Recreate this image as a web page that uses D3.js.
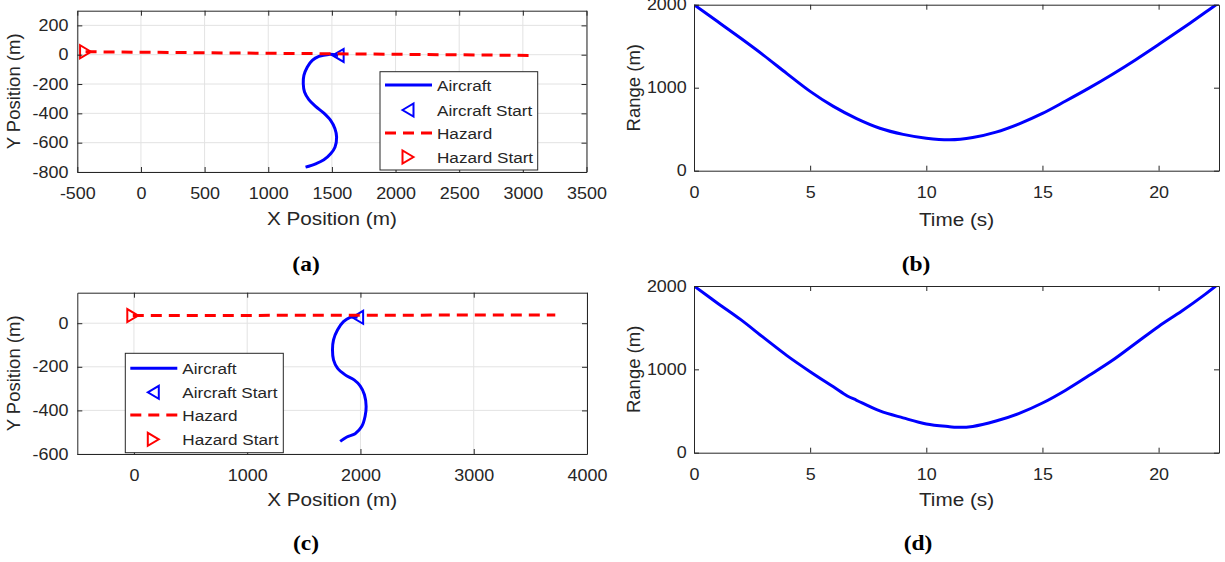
<!DOCTYPE html>
<html>
<head>
<meta charset="utf-8">
<script src="https://cdn.jsdelivr.net/npm/d3@7"></script>
<style>
    body { margin: 0; background: #fff; }
    svg text { font-family: "Liberation Sans", Arial, sans-serif; fill: #262626; }
</style>
</head>
<body>
<div id="chart"></div>
<script>
// ---- values ----

// (a) positions
const xTicksA = [-500, 0, 500, 1000, 1500, 2000, 2500, 3000, 3500];
const yTicksA = [-800, -600, -400, -200, 0, 200];
const aircraftA = [[1549, -5], [1516, 0], [1476, 2], [1398, -12], [1346, -39], [1306, -85],
    [1280, -141], [1275, -198], [1285, -255], [1319, -307], [1372, -353], [1437, -399],
    [1490, -448], [1524, -505], [1537, -562], [1524, -631], [1490, -676], [1437, -717],
    [1372, -744], [1293, -767]];
const hazardA = [[-435, 20], [3090, -5]];

// (c) positions
const xTicksC = [0, 1000, 2000, 3000, 4000];
const yTicksC = [-600, -400, -200, 0];
const aircraftC = [[1975, 27], [1940, 30], [1909, 27], [1850, 7], [1797, -31], [1762, -76],
    [1753, -122], [1762, -168], [1797, -206], [1865, -237], [1944, -260], [1997, -287],
    [2035, -328], [2050, -382], [2041, -427], [2012, -473], [1953, -507], [1880, -522],
    [1821, -542]];
const hazardC = [[-10, 35], [3720, 38]];

// (b) and (d) range vs time
const timeTicks = [0, 5, 10, 15, 20];
const rangeTicks = [0, 1000, 2000];
const timeB = [0, 1, 2, 3, 4, 5, 6, 7, 8, 9, 10, 11, 12, 13, 14, 15, 16, 17, 18, 19, 20, 21, 22, 22.6];
const rangeB = [2000, 1800, 1598, 1390, 1170, 956, 775, 628, 512, 438, 392, 372, 400, 465, 565,
    690, 840, 995, 1160, 1335, 1520, 1710, 1905, 2025];
const timeD = [0, 1, 2, 3, 4, 5, 6, 6.6, 7, 8, 9, 10, 11, 11.3, 12, 13, 14, 15, 16, 17, 18, 19, 20, 21, 22, 22.6];
const rangeD = [2000, 1797, 1599, 1380, 1165, 972, 790, 681, 629, 501, 418, 345, 312, 305, 315,
    380, 472, 596, 750, 925, 1105, 1310, 1515, 1700, 1900, 2030];

const legendLabels = ["Aircraft", "Aircraft Start", "Hazard", "Hazard Start"];
const panelLabels = ["(a)", "(b)", "(c)", "(d)"];

// ---- styling ----
const BLUE = "#0000ff";
const RED = "#ff0000";
const INK = "#262626";
const STRETCH = "scale(1.12,1)";   // the figure is a bit wider than tall

const svg = d3.select("#chart").append("svg")
    .attr("width", 1225)
    .attr("height", 562);

svg.append("rect").attr("width", 1225).attr("height", 562).attr("fill", "#fff");

let clipCount = 0;

// triangle marker, dir = 'left' or 'right'
function triangle(dir) {
    const w = 5.5, h = 6.5;
    return dir === "left"
        ? `M${-w},0L${w},${-h}L${w},${h}Z`
        : `M${w},0L${-w},${-h}L${-w},${h}Z`;
}

/**
 * Draw one axes box with ticks, optional grid and axis labels.
 * Returns scales and a clipped group for the data.
 */
function drawAxes(cfg) {
    const g = svg.append("g");
    const x = d3.scaleLinear().domain(cfg.xDomain).range([cfg.left, cfg.right]);
    const y = d3.scaleLinear().domain(cfg.yDomain).range([cfg.bottom, cfg.top]);
    const fmt = d => String(d);

    if (cfg.grid) {
        g.append("g").selectAll("line")
            .data(cfg.xTicks)
            .join("line")
            .attr("x1", d => x(d)).attr("x2", d => x(d))
            .attr("y1", cfg.top).attr("y2", cfg.bottom)
            .attr("stroke", "#e3e3e3");
        g.append("g").selectAll("line")
            .data(cfg.yTicks)
            .join("line")
            .attr("x1", cfg.left).attr("x2", cfg.right)
            .attr("y1", d => y(d)).attr("y2", d => y(d))
            .attr("stroke", "#e3e3e3");
    }

    const id = "clip" + (clipCount++);
    svg.append("clipPath").attr("id", id)
        .append("rect")
        .attr("x", cfg.left).attr("y", cfg.top)
        .attr("width", cfg.right - cfg.left)
        .attr("height", cfg.bottom - cfg.top);
    const plot = g.append("g").attr("clip-path", `url(#${id})`);

    const axes = g.append("g");
    axes.append("g")
        .attr("transform", `translate(0,${cfg.bottom})`)
        .call(d3.axisBottom(x).tickValues(cfg.xTicks).tickFormat(fmt)
            .tickSizeInner(-5).tickSizeOuter(0).tickPadding(16));
    axes.append("g")
        .attr("transform", `translate(0,${cfg.top})`)
        .call(d3.axisTop(x).tickValues(cfg.xTicks).tickFormat("")
            .tickSizeInner(-5).tickSizeOuter(0));
    axes.append("g")
        .attr("transform", `translate(${cfg.left},0)`)
        .call(d3.axisLeft(y).tickValues(cfg.yTicks).tickFormat(fmt)
            .tickSizeInner(-5).tickSizeOuter(0).tickPadding(cfg.yPad));
    axes.append("g")
        .attr("transform", `translate(${cfg.right},0)`)
        .call(d3.axisRight(y).tickValues(cfg.yTicks).tickFormat("")
            .tickSizeInner(-5).tickSizeOuter(0));

    axes.selectAll("g")
        .attr("font-family", null)
        .attr("font-size", null);
    axes.selectAll(".domain, .tick line").attr("stroke", INK);
    axes.selectAll(".tick text")
        .attr("fill", INK)
        .style("font-size", "16px")
        .attr("transform", STRETCH);

    // axis titles
    svg.append("text")
        .attr("transform", `translate(${(cfg.left + cfg.right) / 2},${cfg.xTitleY}) ${STRETCH}`)
        .attr("text-anchor", "middle")
        .style("font-size", "18.5px")
        .text(cfg.xTitle);
    svg.append("text")
        .attr("transform", `translate(${cfg.yTitleX},${(cfg.top + cfg.bottom) / 2}) rotate(-90)`)
        .attr("text-anchor", "middle")
        .style("font-size", "18.5px")
        .text(cfg.yTitle);

    return { x, y, plot };
}

function drawPositionPanel(cfg, aircraft, hazard, legend) {
    const { x, y, plot } = drawAxes(cfg);
    const line = d3.line()
        .x(d => x(d[0]))
        .y(d => y(d[1]))
        .curve(d3.curveCatmullRom);

    plot.append("path")
        .attr("d", line(aircraft))
        .attr("fill", "none")
        .attr("stroke", BLUE)
        .attr("stroke-width", 3);
    plot.append("path")
        .attr("d", triangle("left"))
        .attr("transform", `translate(${x(aircraft[0][0])},${y(aircraft[0][1])})`)
        .attr("fill", "none")
        .attr("stroke", BLUE)
        .attr("stroke-width", 2);
    plot.append("path")
        .attr("d", d3.line().x(d => x(d[0])).y(d => y(d[1]))(hazard))
        .attr("fill", "none")
        .attr("stroke", RED)
        .attr("stroke-width", 3)
        .attr("stroke-dasharray", "11,7");
    plot.append("path")
        .attr("d", triangle("right"))
        .attr("transform", `translate(${x(hazard[0][0])},${y(hazard[0][1])})`)
        .attr("fill", "none")
        .attr("stroke", RED)
        .attr("stroke-width", 2);

    // legend box
    const lg = svg.append("g");
    lg.append("rect")
        .attr("x", legend.x).attr("y", legend.y)
        .attr("width", legend.w).attr("height", legend.h)
        .attr("fill", "#fff")
        .attr("stroke", INK);
    legendLabels.forEach((label, i) => {
        const cy = legend.rows[i];
        const x0 = legend.x + 5, x1 = legend.x + 52;
        if (i === 0 || i === 2) {
            lg.append("line")
                .attr("x1", x0).attr("x2", x1)
                .attr("y1", cy).attr("y2", cy)
                .attr("stroke", i === 0 ? BLUE : RED)
                .attr("stroke-width", 3)
                .attr("stroke-dasharray", i === 2 ? "11,7" : null);
        } else {
            lg.append("path")
                .attr("d", triangle(i === 1 ? "left" : "right"))
                .attr("transform", `translate(${legend.x + 28},${cy})`)
                .attr("fill", "none")
                .attr("stroke", i === 1 ? BLUE : RED)
                .attr("stroke-width", 2);
        }
        lg.append("text")
            .attr("transform", `translate(${legend.x + 57},${cy}) ${STRETCH}`)
            .attr("dy", "0.36em")
            .style("font-size", "15.3px")
            .text(label);
    });
}

function drawRangePanel(cfg, time, range) {
    const { x, y, plot } = drawAxes(cfg);
    const line = d3.line()
        .x((d, i) => x(time[i]))
        .y(d => y(d))
        .curve(d3.curveCatmullRom);
    plot.append("path")
        .attr("d", line(range))
        .attr("fill", "none")
        .attr("stroke", BLUE)
        .attr("stroke-width", 3);
}

function panelLabel(text, cx, baseline) {
    svg.append("text")
        .attr("transform", `translate(${cx},${baseline}) ${STRETCH}`)
        .attr("text-anchor", "middle")
        .style("font-family", "'Liberation Serif', 'Times New Roman', serif")
        .style("font-weight", "bold")
        .style("font-size", "21px")
        .style("fill", "#000")
        .text(text);
}

// (a)
drawPositionPanel({
    left: 77.3, right: 586.5, top: 10.7, bottom: 172,
    xDomain: [-500, 3500], yDomain: [-800, 300],
    xTicks: xTicksA, yTicks: yTicksA, grid: true, yPad: 8,
    xTitle: "X Position (m)", yTitle: "Y Position (m)", xTitleY: 225, yTitleX: 20
}, aircraftA, hazardA, { x: 380, y: 71.7, w: 157.7, h: 98.3, rows: [85, 110, 133, 157] });

// (c)
drawPositionPanel({
    left: 77.3, right: 587, top: 292.7, bottom: 454,
    xDomain: [-500, 4000], yDomain: [-600, 140],
    xTicks: xTicksC, yTicks: yTicksC, grid: true, yPad: 8,
    xTitle: "X Position (m)", yTitle: "Y Position (m)", xTitleY: 506, yTitleX: 20
}, aircraftC, hazardC, { x: 125.3, y: 353.3, w: 158, h: 99.4, rows: [368.3, 392.3, 415, 439.3] });

// (b)
drawRangePanel({
    left: 694, right: 1219, top: 4.7, bottom: 170.7,
    xDomain: [0, 22.6], yDomain: [0, 2000],
    xTicks: timeTicks, yTicks: rangeTicks, grid: false, yPad: 6.5,
    xTitle: "Time (s)", yTitle: "Range (m)", xTitleY: 226, yTitleX: 640
}, timeB, rangeB);

// (d)
drawRangePanel({
    left: 694, right: 1219, top: 286, bottom: 452.7,
    xDomain: [0, 22.6], yDomain: [0, 2000],
    xTicks: timeTicks, yTicks: rangeTicks, grid: false, yPad: 6.5,
    xTitle: "Time (s)", yTitle: "Range (m)", xTitleY: 506, yTitleX: 640
}, timeD, rangeD);

panelLabel(panelLabels[0], 306, 271);
panelLabel(panelLabels[1], 916, 271);
panelLabel(panelLabels[2], 306, 550);
panelLabel(panelLabels[3], 918, 550);
</script>
</body>
</html>
